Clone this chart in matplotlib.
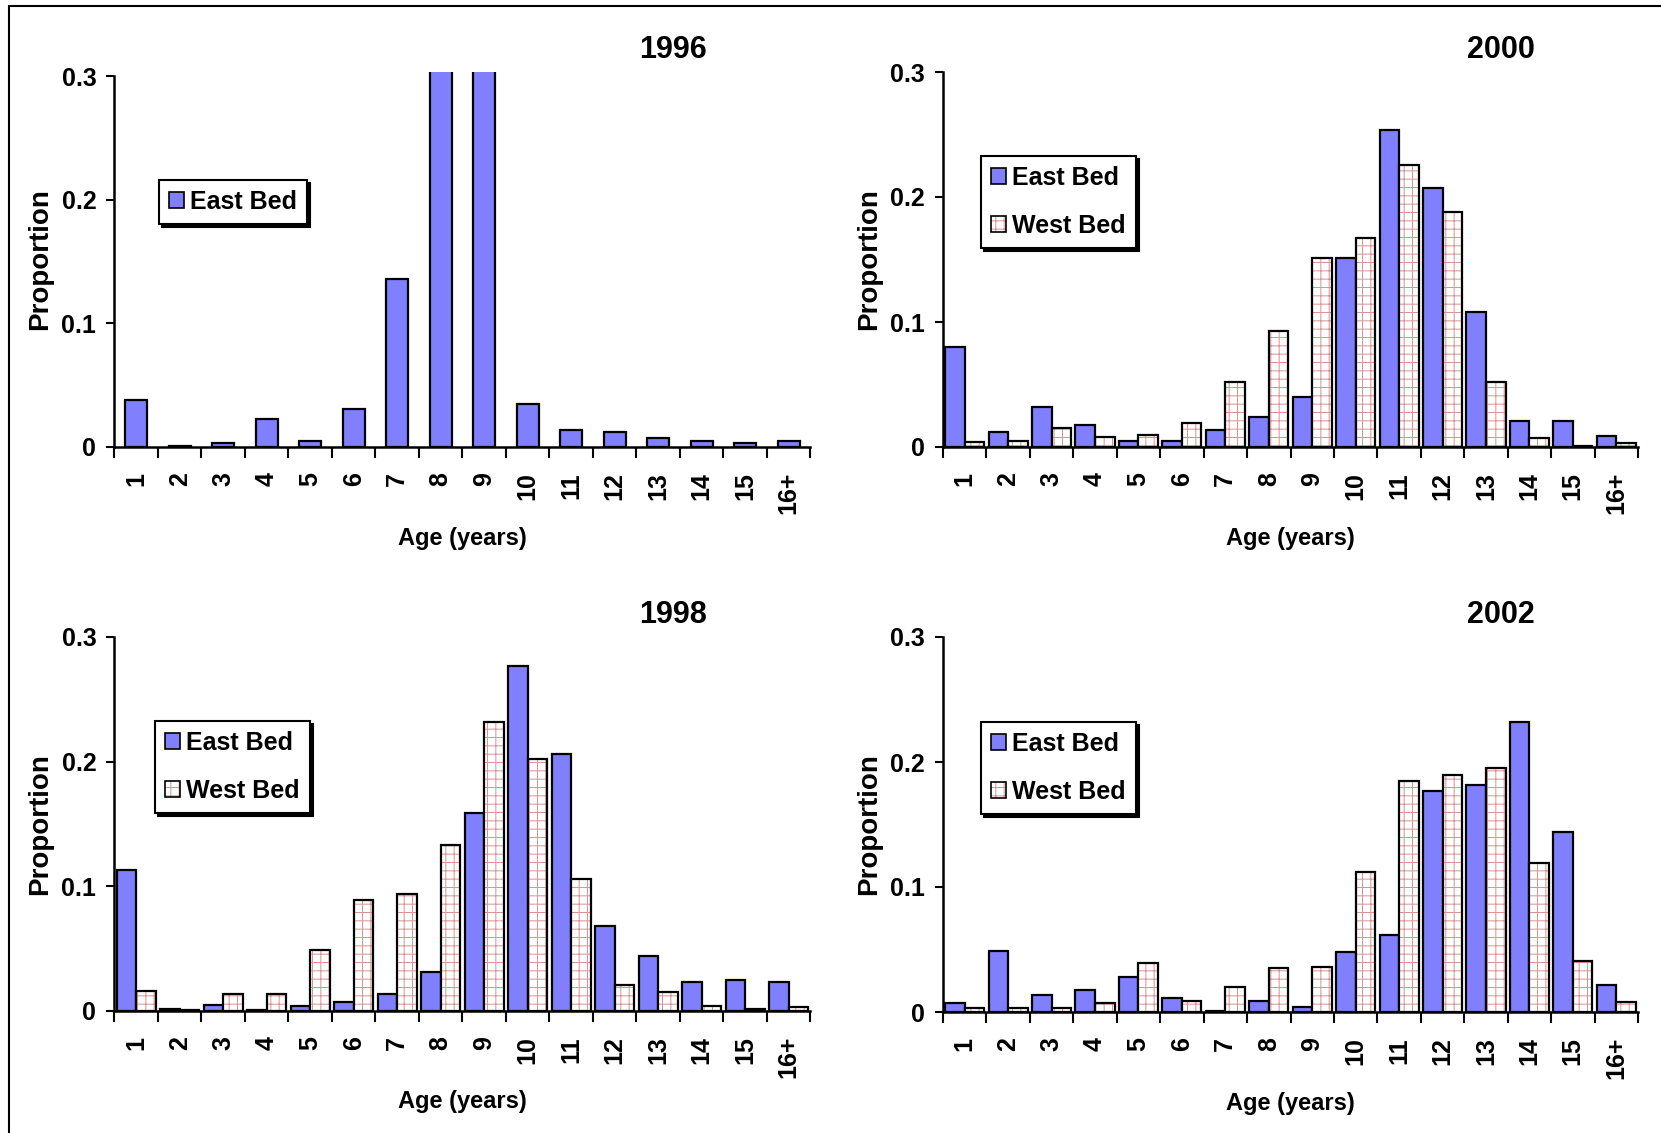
import matplotlib

matplotlib.use("Agg")
import matplotlib.pyplot as plt
import numpy as np
from matplotlib.legend_handler import HandlerTuple
from matplotlib.patches import Patch, Rectangle

ages = ["1", "2", "3", "4", "5", "6", "7", "8", "9", "10", "11", "12", "13", "14", "15", "16+"]

east_1996 = [0.038, 0.001, 0.003, 0.023, 0.005, 0.031, 0.136, 0.33, 0.32,
             0.035, 0.014, 0.012, 0.007, 0.005, 0.003, 0.005]

east_2000 = [0.080, 0.012, 0.032, 0.018, 0.005, 0.005, 0.014, 0.024, 0.040,
             0.151, 0.254, 0.207, 0.108, 0.021, 0.021, 0.009]
west_2000 = [0.004, 0.005, 0.015, 0.008, 0.010, 0.019, 0.052, 0.093, 0.151,
             0.167, 0.226, 0.188, 0.052, 0.007, 0.001, 0.003]

east_1998 = [0.113, 0.002, 0.005, 0.001, 0.004, 0.007, 0.014, 0.031, 0.159,
             0.277, 0.206, 0.068, 0.044, 0.023, 0.025, 0.023]
west_1998 = [0.016, 0.001, 0.014, 0.014, 0.049, 0.089, 0.094, 0.133, 0.232,
             0.202, 0.106, 0.021, 0.015, 0.004, 0.002, 0.003]

east_2002 = [0.007, 0.049, 0.014, 0.018, 0.028, 0.011, 0.001, 0.009, 0.004,
             0.048, 0.062, 0.177, 0.182, 0.232, 0.144, 0.022]
west_2002 = [0.003, 0.003, 0.003, 0.007, 0.039, 0.009, 0.020, 0.035, 0.036,
             0.112, 0.185, 0.190, 0.195, 0.119, 0.041, 0.008]

EAST_COLOR = "#8080ff"
HATCH_COLOR = "#dc9090"
FONT = "Liberation Sans"

plt.rcParams["hatch.linewidth"] = 0.7

W, H = 1661, 1133
fig = plt.figure(figsize=(W / 100, H / 100), dpi=100)


def axes_at(x0, x1, y0, y1):
    return fig.add_axes([x0 / W, 1 - y1 / H, (x1 - x0) / W, (y1 - y0) / H])


def west_bars(ax, x, values, width):
    # hatch layer in pale red, black outline drawn on top
    ax.bar(x, values, width, color="white", edgecolor=HATCH_COLOR, hatch="++", linewidth=0, zorder=2)
    ax.bar(x, values, width, color="none", edgecolor="black", linewidth=1.6, zorder=3)


def style_axes(ax, title, top):
    ax.set_xlim(-0.5, len(ages) - 0.5)
    ax.set_ylim(0, top)
    ax.spines["top"].set_visible(False)
    ax.spines["right"].set_visible(False)
    ax.spines["left"].set_bounds(0, 0.3)
    for side in ("left", "bottom"):
        ax.spines[side].set_linewidth(1.8)
    ax.set_yticks([0, 0.1, 0.2, 0.3])
    ax.set_yticklabels(["0", "0.1", "0.2", "0.3"], fontfamily=FONT, fontweight="bold", fontsize=18)
    ax.tick_params(axis="y", direction="out", length=6, width=1.5, pad=7)
    ax.set_xticks(np.arange(len(ages)))
    ax.set_xticklabels(ages, rotation=90, fontfamily=FONT, fontweight="bold", fontsize=18)
    ax.tick_params(axis="x", which="major", length=0, pad=18)
    ax.set_xticks(np.arange(len(ages) + 1) - 0.5, minor=True)
    ax.tick_params(axis="x", which="minor", direction="out", length=8, width=1.5)
    ax.set_xlabel("Age (years)", fontfamily=FONT, fontweight="bold", fontsize=17, va="center")
    ax.xaxis.set_label_coords(0.5, -0.243)
    ax.set_ylabel("Proportion", fontfamily=FONT, fontweight="bold", fontsize=20, va="center")
    ax.yaxis.set_label_coords(-0.107, 0.5)
    ax.text(0.803, 1.058, title, transform=ax.transAxes, ha="center", va="center",
            fontfamily=FONT, fontweight="bold", fontsize=22)


def add_legend(ax, handles, labels, x, y):
    leg = ax.legend(handles, labels, loc="upper left", bbox_to_anchor=(x / W, 1 - y / H),
                    bbox_transform=fig.transFigure, borderaxespad=0, frameon=True, fancybox=False,
                    shadow={"color": "black", "alpha": 1}, edgecolor="black", framealpha=1,
                    handlelength=0.6, handleheight=0.6, handletextpad=0.25, borderpad=0.4,
                    labelspacing=0.95, handler_map={tuple: HandlerTuple(ndivide=1)},
                    prop={"family": FONT, "weight": "bold", "size": 18})
    leg.get_frame().set_linewidth(1.5)


east_handle = Patch(facecolor=EAST_COLOR, edgecolor="black", linewidth=1.2)
west_handle = (Patch(facecolor="white", edgecolor=HATCH_COLOR, hatch="++", linewidth=0),
               Patch(facecolor="none", edgecolor="black", linewidth=1.2))

x = np.arange(len(ages))
bw = 0.45

# 1996: only East Bed; ages 8 and 9 run past the top of the axis
ax = axes_at(114.4, 810.4, 72, 447)
ax.bar(x, east_1996, 0.5, color=EAST_COLOR, edgecolor="black", linewidth=1.6, zorder=2)
style_axes(ax, "1996", 0.3034)
add_legend(ax, [east_handle], ["East Bed"], 159, 180)

panels = [
    ((943, 1638, 72, 447), "2000", east_2000, west_2000, (981, 156)),
    ((114.4, 810.4, 637, 1011), "1998", east_1998, west_1998, (155, 721)),
    ((943, 1638, 637, 1012), "2002", east_2002, west_2002, (981, 722)),
]
for box, title, east, west, (lx, ly) in panels:
    ax = axes_at(*box)
    ax.bar(x - bw / 2, east, bw, color=EAST_COLOR, edgecolor="black", linewidth=1.6, zorder=2)
    west_bars(ax, x + bw / 2, west, bw)
    style_axes(ax, title, 0.3)
    add_legend(ax, [east_handle, west_handle], ["East Bed", "West Bed"], lx, ly)

fig.add_artist(Rectangle((8.5 / W, -0.05), 1.1, 1.05 - 5.5 / H, transform=fig.transFigure,
                         fill=False, edgecolor="black", linewidth=1.5))

fig.savefig("out.png", dpi=100)
